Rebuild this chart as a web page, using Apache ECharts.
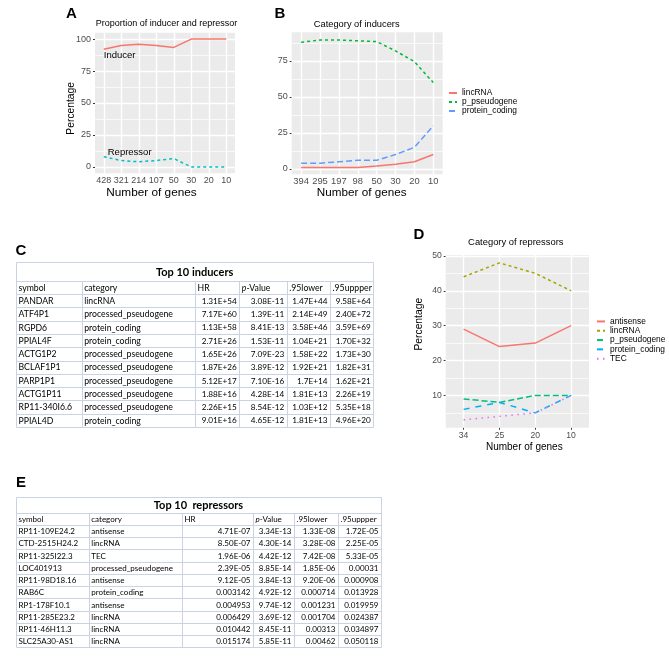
<!DOCTYPE html>
<html><head><meta charset="utf-8">
<script src="https://cdn.jsdelivr.net/npm/echarts@6/dist/echarts.min.js"></script>
<style>html,body{margin:0;padding:0;background:#fff}#main{width:669px;height:662px}</style>
</head><body><div id="main"></div>
<script>
// ---------- Panel A data ----------
const countsA = ['428','321','214','107','50','30','20','10'];
const inducerPct = [92, 95, 96, 95, 93.5, 100, 100, 100];
const repressorPct = [8, 5, 4, 5, 6.5, 0, 0, 0];
const yTicksA = [0, 25, 50, 75, 100];

// ---------- Panel B data ----------
const countsB = ['394','295','197','98','50','30','20','10'];
const lincB = [1, 1, 1, 1, 2, 3.3, 5, 10];
const pseudoB = [88, 89.5, 89.5, 89, 88.5, 82, 74.5, 60];
const proteinB = [4, 4, 5, 6, 6, 10, 15, 30];
const yTicksB = [0, 25, 50, 75];

// ---------- Panel D data ----------
const countsD = ['34','25','20','10'];
const antisenseD = [29, 24, 25, 30];
const lincD = [44, 48, 45, 40];
const pseudoD = [9, 8, 10, 10];
const proteinD = [6, 8, 5, 10];
const tecD = [3, 4, 5, 10];
const yTicksD = [10, 20, 30, 40, 50];

// ---------- Table C data ----------
const tableHeader = ['symbol','category','HR','p-Value','.95lower','.95uppper'];
const inducerTitle = 'Top 10 inducers';
const inducerSymbol = ['PANDAR','ATF4P1','RGPD6','PPIAL4F','ACTG1P2','BCLAF1P1','PARP1P1','ACTG1P11','RP11-340I6.6','PPIAL4D'];
const inducerCategory = ['lincRNA','processed_pseudogene','protein_coding','protein_coding','processed_pseudogene','processed_pseudogene','processed_pseudogene','processed_pseudogene','processed_pseudogene','protein_coding'];
const inducerHR = ['1.31E+54','7.17E+60','1.13E+58','2.71E+26','1.65E+26','1.87E+26','5.12E+17','1.88E+16','2.26E+15','9.01E+16'];
const inducerP = ['3.08E-11','1.39E-11','8.41E-13','1.53E-11','7.09E-23','3.89E-12','7.10E-16','4.28E-14','8.54E-12','4.65E-12'];
const inducerLower = ['1.47E+44','2.14E+49','3.58E+46','1.04E+21','1.58E+22','1.92E+21','1.7E+14','1.81E+13','1.03E+12','1.81E+13'];
const inducerUpper = ['9.58E+64','2.40E+72','3.59E+69','1.70E+32','1.73E+30','1.82E+31','1.62E+21','2.26E+19','5.35E+18','4.96E+20'];

// ---------- Table E data ----------
const repressorTitle = 'Top 10  repressors';
const repressorSymbol = ['RP11-109E24.2','CTD-2515H24.2','RP11-325I22.3','LOC401913','RP11-98D18.16','RAB6C','RP1-178F10.1','RP11-285E23.2','RP11-46H11.3','SLC25A30-AS1'];
const repressorCategory = ['antisense','lincRNA','TEC','processed_pseudogene','antisense','protein_coding','antisense','lincRNA','lincRNA','lincRNA'];
const repressorHR = ['4.71E-07','8.50E-07','1.96E-06','2.39E-05','9.12E-05','0.003142','0.004953','0.006429','0.010442','0.015174'];
const repressorP = ['3.34E-13','4.30E-14','4.42E-12','8.85E-14','3.84E-13','4.92E-12','9.74E-12','3.69E-12','8.45E-11','5.85E-11'];
const repressorLower = ['1.33E-08','3.28E-08','7.42E-08','1.85E-06','9.20E-06','0.000714','0.001231','0.001704','0.00313','0.00462'];
const repressorUpper = ['1.72E-05','2.25E-05','5.33E-05','0.00031','0.000908','0.013928','0.019959','0.024387','0.034897','0.050118'];

// ---------- styling ----------
const FONT = '"Liberation Sans", Arial, sans-serif';
const TFONT = 'Lato, "Liberation Sans", sans-serif';
const LAB = '#4D4D4D';
const TLINE = '#C9D3E2';

const chart = echarts.init(document.getElementById('main'), null, {renderer: 'canvas'});

function lineSeries(name, data, color, dash, gi) {
  return {type: 'line', name, data, xAxisIndex: gi, yAxisIndex: gi, symbol: 'none', z: 3,
    silent: true, animation: false,
    lineStyle: {color, width: 1.5, type: dash || 'solid', cap: 'butt'}, itemStyle: {color}};
}
function minorsOf(ticks, min, max) {
  const step = ticks[1] - ticks[0];
  const out = [];
  for (let v = ticks[0] - step / 2; v <= ticks[ticks.length - 1] + step / 2; v += step) {
    if (v > min && v < max) out.push(v);
  }
  return out;
}
function gridSeries(gi, cats, ticks, min, max) {
  const major = {color: '#FFFFFF', width: 1.4, type: 'solid'};
  const minor = {color: '#FFFFFF', width: 0.7, type: 'solid'};
  const data = [
    ...minorsOf(ticks, min, max).map(v => ({yAxis: v, lineStyle: minor})),
    ...ticks.map(v => ({yAxis: v, lineStyle: major})),
    ...cats.map(c => ({xAxis: c, lineStyle: major}))
  ];
  return {type: 'line', name: 'grid' + gi, data: [], xAxisIndex: gi, yAxisIndex: gi, z: 1, silent: true,
    markLine: {silent: true, symbol: ['none', 'none'], label: {show: false}, z: 1, animation: false,
      emphasis: {disabled: true}, data}};
}
function xAxisCfg(gi, cats, fs) {
  return {type: 'category', gridIndex: gi, data: cats, boundaryGap: true,
    axisLine: {show: false},
    axisTick: {show: true, alignWithLabel: true, length: 2, lineStyle: {color: '#333', width: 1}},
    axisLabel: {interval: 0, color: LAB, fontSize: fs, fontFamily: FONT, margin: 3, hideOverlap: false},
    splitLine: {show: false}};
}
function yAxisCfg(gi, min, max, ticks, fs) {
  return {type: 'value', gridIndex: gi, min, max,
    axisLine: {show: false},
    axisTick: {show: true, length: 2, customValues: ticks, lineStyle: {color: '#333', width: 1}},
    axisLabel: {customValues: ticks, color: LAB, fontSize: fs, fontFamily: FONT, margin: 4},
    splitLine: {show: false}};
}
function gtext(id, text, x, y, size, extra) {
  return Object.assign({type: 'text', id, x, y, z: 50, silent: true,
    style: Object.assign({text, fontSize: size, fontFamily: FONT, fill: '#000', align: 'center', verticalAlign: 'middle'}, (extra && extra.style) || {})},
    extra && extra.rotation ? {rotation: extra.rotation} : {});
}

function buildTable(id, cfg, title, columns) {
  const els = [];
  const c = cfg.cols, L = c[0], R = c[c.length - 1];
  const nRows = columns[0].length + 1;
  const T = cfg.top, H0 = cfg.top + cfg.titleH, B = H0 + cfg.rowH * nRows;
  const px = v => Math.round(v) + 0.5;
  els.push({type: 'rect', id: id + 'box', silent: true,
    shape: {x: px(L), y: px(T), width: Math.round(R) - Math.round(L), height: Math.round(B) - Math.round(T)},
    style: {fill: '#fff', stroke: TLINE, lineWidth: 1}});
  for (let i = 0; i < nRows; i++) {
    const y = px(H0 + cfg.rowH * i);
    els.push({type: 'line', id: id + 'h' + i, silent: true, shape: {x1: px(L), y1: y, x2: px(R), y2: y}, style: {stroke: TLINE, lineWidth: 1}});
  }
  for (let j = 1; j < c.length - 1; j++) {
    const x = px(c[j]);
    els.push({type: 'line', id: id + 'v' + j, silent: true, shape: {x1: x, y1: px(H0), x2: x, y2: px(B)}, style: {stroke: TLINE, lineWidth: 1}});
  }
  els.push({type: 'text', id: id + 'title', silent: true, x: (L + R) / 2, y: T + cfg.titleH / 2 + 0.5,
    style: {text: title, fontFamily: TFONT, fontWeight: 'bold', fontSize: cfg.titleFont, fill: '#000', align: 'center', verticalAlign: 'middle'}});
  tableHeader.forEach((h, j) => {
    const isP = h === 'p-Value';
    els.push({type: 'text', id: id + 'hd' + j, silent: true, x: c[j] + 2.5, y: H0 + cfg.rowH / 2 + 0.5,
      style: {text: isP ? '{i|p}-Value' : h, fontFamily: TFONT, fontSize: cfg.font, fill: '#000', align: 'left', verticalAlign: 'middle',
        rich: {i: {fontStyle: 'italic', fontFamily: TFONT, fontSize: cfg.font, fill: '#000'}}}});
  });
  for (let r = 0; r < columns[0].length; r++) {
    const y = H0 + cfg.rowH * (r + 1.5) + 0.5;
    columns.forEach((col, j) => {
      const right = j >= 2;
      els.push({type: 'text', id: id + 'c' + r + '_' + j, silent: true, x: right ? c[j + 1] - 2.5 : c[j] + 2.5, y,
        style: {text: col[r], fontFamily: TFONT, fontSize: right ? cfg.numFont : cfg.font, fill: '#000', align: right ? 'right' : 'left', verticalAlign: 'middle'}});
    });
  }
  return els;
}

const legendText = {fontSize: 8.4, fontFamily: FONT, color: '#000'};
const stripPrefix = n => n.slice(2);
const legendCommon = {orient: 'vertical', itemWidth: 8, itemGap: 0, padding: 0, selectedMode: false, formatter: stripPrefix,
  itemStyle: {color: 'rgba(0,0,0,0)', borderColor: 'rgba(0,0,0,0)', borderWidth: 0, opacity: 0}};

const yRangeA = [-5, 105], yRangeB = [-3.7, 94.9], yRangeD = [0.75, 50.25];

const option = {
  animation: false,
  backgroundColor: '#fff',
  grid: [
    {left: 95, top: 32.7, width: 140, height: 140.6, show: true, backgroundColor: '#EBEBEB', borderWidth: 0},
    {left: 291.7, top: 32.3, width: 151, height: 142, show: true, backgroundColor: '#EBEBEB', borderWidth: 0},
    {left: 445.7, top: 255, width: 143.3, height: 172.7, show: true, backgroundColor: '#EBEBEB', borderWidth: 0}
  ],
  xAxis: [xAxisCfg(0, countsA, 9), xAxisCfg(1, countsB, 9.4), xAxisCfg(2, countsD, 8.6)],
  yAxis: [yAxisCfg(0, yRangeA[0], yRangeA[1], yTicksA, 9), yAxisCfg(1, yRangeB[0], yRangeB[1], yTicksB, 9), yAxisCfg(2, yRangeD[0], yRangeD[1], yTicksD, 8.6)],
  legend: [
    Object.assign({data: ['B:lincRNA', 'B:p_pseudogene', 'B:protein_coding'], left: 448, top: 88.5, itemHeight: 9,
      textStyle: Object.assign({lineHeight: 9}, legendText)}, legendCommon),
    Object.assign({data: ['D:antisense', 'D:lincRNA', 'D:p_pseudogene', 'D:protein_coding', 'D:TEC'], left: 596, top: 316.8, itemHeight: 9.3,
      textStyle: Object.assign({lineHeight: 9.3}, legendText)}, legendCommon)
  ],
  series: [
    gridSeries(0, countsA, yTicksA, yRangeA[0], yRangeA[1]),
    gridSeries(1, countsB, yTicksB, yRangeB[0], yRangeB[1]),
    gridSeries(2, countsD, yTicksD, yRangeD[0], yRangeD[1]),
    lineSeries('A:Inducer', inducerPct, '#F8766D', null, 0),
    lineSeries('A:Repressor', repressorPct, '#00BFC4', [3, 3], 0),
    lineSeries('B:lincRNA', lincB, '#F8766D', null, 1),
    lineSeries('B:p_pseudogene', pseudoB, '#00BA38', [3, 3], 1),
    lineSeries('B:protein_coding', proteinB, '#619CFF', [6, 3], 1),
    lineSeries('D:antisense', antisenseD, '#F8766D', null, 2),
    lineSeries('D:lincRNA', lincD, '#A3A500', [3, 3], 2),
    lineSeries('D:p_pseudogene', pseudoD, '#00BF7D', [6, 3], 2),
    lineSeries('D:protein_coding', proteinD, '#00B0F6', [6, 6], 2),
    lineSeries('D:TEC', tecD, '#E76BF3', [1.5, 4.5], 2)
  ]
};
chart.setOption(option);

// annotations, titles and tables
const pInd = chart.convertToPixel({gridIndex: 0}, [countsA[0], inducerPct[0]]);
const pRep = chart.convertToPixel({gridIndex: 0}, [countsA[0], repressorPct[0]]);

const elements = [
  gtext('lblA', 'A', 71.5, 14, 15, {style: {fontWeight: 'bold'}}),
  gtext('lblB', 'B', 280, 14, 15, {style: {fontWeight: 'bold'}}),
  gtext('lblC', 'C', 21, 251, 15, {style: {fontWeight: 'bold'}}),
  gtext('lblD', 'D', 418.8, 235, 15, {style: {fontWeight: 'bold'}}),
  gtext('lblE', 'E', 21, 482.5, 15, {style: {fontWeight: 'bold'}}),
  gtext('titA', 'Proportion of inducer and repressor', 166.5, 24, 9),
  gtext('titB', 'Category of inducers', 356.7, 24, 9.3),
  gtext('titD', 'Category of repressors', 515.8, 242.3, 9.4),
  gtext('xtA', 'Number of genes', 151.5, 192.3, 11.8),
  gtext('xtB', 'Number of genes', 361.7, 192.3, 11.7),
  gtext('xtD', 'Number of genes', 524.3, 447.3, 10),
  gtext('ytA', 'Percentage', 71.5, 108.3, 10.3, {rotation: Math.PI / 2}),
  gtext('ytD', 'Percentage', 419, 324.2, 10.3, {rotation: Math.PI / 2}),
  gtext('annInd', 'Inducer', pInd[0], pInd[1] + 6, 9.5, {style: {align: 'left'}}),
  gtext('annRep', 'Repressor', pRep[0] + 4, pRep[1] - 4, 9.5, {style: {align: 'left'}}),
  ...buildTable('tC', {top: 262.3, cols: [16, 81.7, 195, 239.3, 286.7, 330, 373.3], titleH: 18.4, rowH: 13.3, font: 8.7, numFont: 8.2, titleFont: 11},
    inducerTitle, [inducerSymbol, inducerCategory, inducerHR, inducerP, inducerLower, inducerUpper]),
  ...buildTable('tE', {top: 496.7, cols: [16, 88.8, 182, 253, 294, 338, 381], titleH: 16, rowH: 12.25, font: 8, numFont: 8, titleFont: 11},
    repressorTitle, [repressorSymbol, repressorCategory, repressorHR, repressorP, repressorLower, repressorUpper])
];
chart.setOption({graphic: {elements}});
</script>
</body></html>
